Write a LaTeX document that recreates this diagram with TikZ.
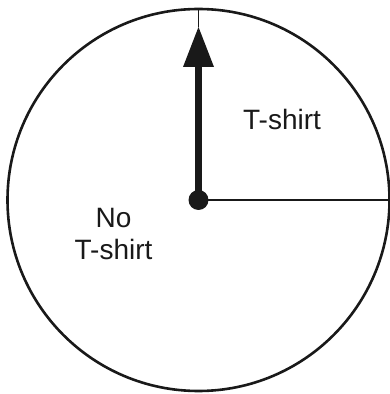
\documentclass[tikz,border=0pt]{standalone}
\usepackage{fontspec}
\setmainfont{Liberation Sans}
\begin{document}
\begin{tikzpicture}[x=1pt,y=1pt,
  rim/.style={line width=2.6pt, draw=black!90},
  lab/.style={font=\fontsize{28}{32.3}\selectfont, inner sep=0pt, align=center, text=black!90}]
\useasboundingbox (0,0) rectangle (389,394);
\coordinate (c) at (198.5,194);
\coordinate (top) at (198.5,385);
\coordinate (east) at (389.5,194);
\coordinate (apex) at (198.5,367);
\coordinate (base) at (198.5,327);
\draw[rim] (c) circle[radius=191];
\draw[line width=2pt, draw=black!90] (c) -- (east);
\draw[line width=1.6pt, draw=black!90] (top) -- (apex);
\draw[line width=7.5pt, draw=black!90] (c) -- (base);
\fill[black!90] (apex) -- ([xshift=15.5pt]base) -- ([xshift=-15.5pt]base) -- cycle;
\fill[black!90] (c) circle[radius=10];
\node[lab, anchor=base] (ts) at (282,264) {T-shirt};
\node[lab, anchor=base] (nots) at (113.5,134) {No\\T-shirt};
\end{tikzpicture}
\end{document}
